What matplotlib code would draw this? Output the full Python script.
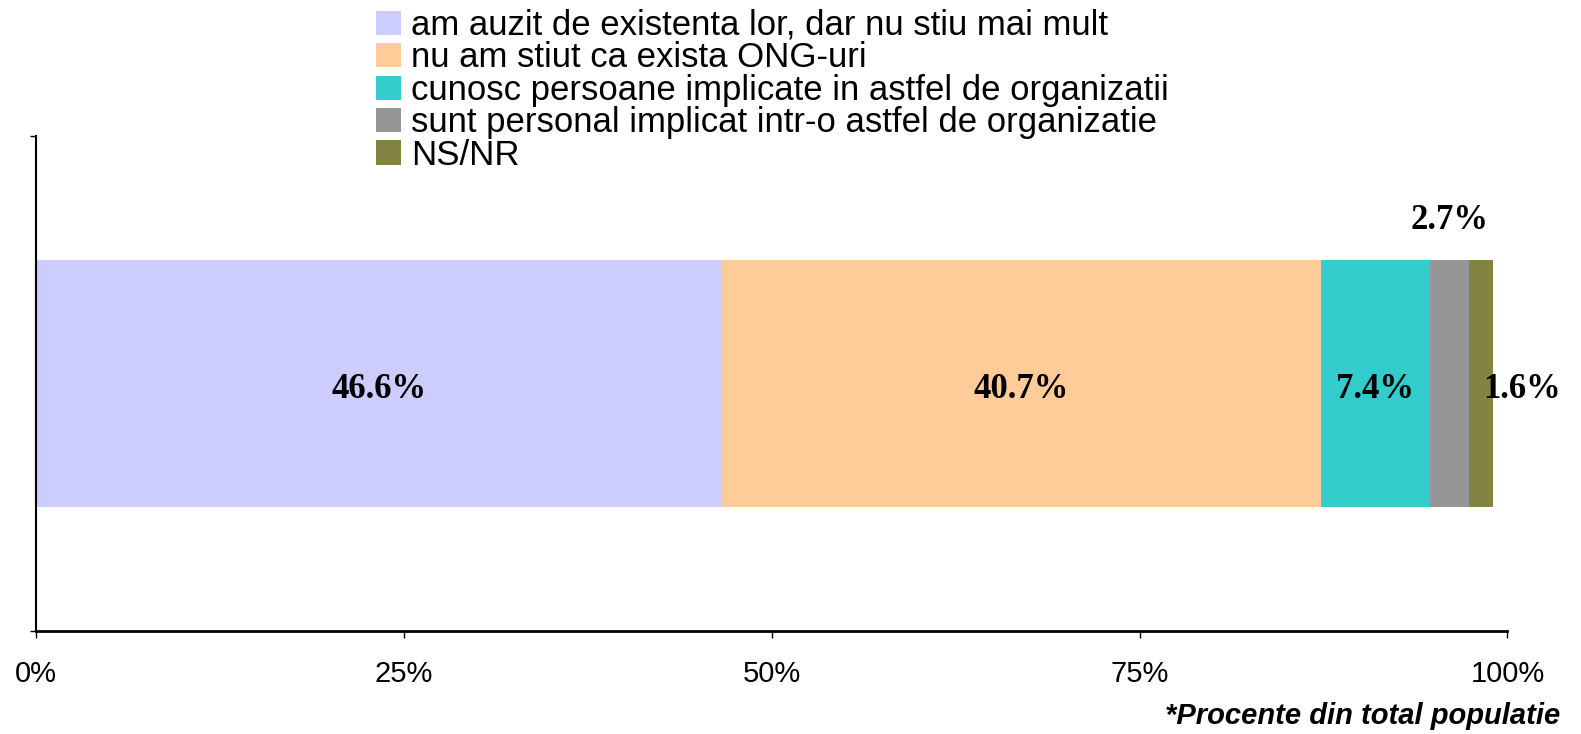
import matplotlib
matplotlib.use('Agg')
import matplotlib.pyplot as plt
from matplotlib.patches import Patch

categories = ['am auzit de existenta lor, dar nu stiu mai mult',
              'nu am stiut ca exista ONG-uri',
              'cunosc persoane implicate in astfel de organizatii',
              'sunt personal implicat intr-o astfel de organizatie',
              'NS/NR']
values = [46.6, 40.7, 7.4, 2.7, 1.6]
colors = ['#CCCCFF', '#FFCC99', '#33CCCC', '#969696', '#848442']
xticks = [0, 25, 50, 75, 100]
xticklabels = ['0%', '25%', '50%', '75%', '100%']

plt.rcParams['font.family'] = ['Liberation Sans', 'DejaVu Sans']

fig = plt.figure(figsize=(15.81, 7.34), dpi=100)
ax = fig.add_axes([0.023, 0.1403, 0.9305, 0.6744])

left = 0
for i in range(len(values)):
    ax.barh(0, values[i], left=left, height=0.5, color=colors[i], label=categories[i])
    c = left + values[i] / 2
    lab = '%.1f%%' % values[i]
    tk = dict(ha='center', va='center_baseline', fontsize=25, fontweight='bold',
              family='Liberation Serif', clip_on=False)
    if i == 3:
        ax.text(c, 0.338, lab, **tk)
    elif i == 4:
        ax.text(c + 2.8, -0.005, lab, **tk)
    else:
        ax.text(c, -0.003, lab, **tk)
    left += values[i]

ax.set_xlim(0, 100)
ax.set_ylim(-0.5, 0.5)
ax.set_xticks(xticks)
ax.set_xticklabels(xticklabels)
ax.set_yticks([-0.5, 0.5])
ax.set_yticklabels([])
ax.tick_params(axis='x', direction='out', length=5, width=1, pad=16, labelsize=21)
ax.tick_params(axis='y', direction='out', length=4, width=1)
for s in ['top', 'right']:
    ax.spines[s].set_visible(False)
ax.spines['left'].set_linewidth(1.5)
ax.spines['bottom'].set_linewidth(2)

handles = [Patch(facecolor=colors[i], edgecolor='none') for i in range(len(categories))]
fig.legend(handles, categories, loc='upper left', bbox_to_anchor=(0.2348, 0.995),
           frameon=False, handlelength=0.7, handleheight=0.7,
           handletextpad=0.3, labelspacing=-0.015, borderaxespad=0.0,
           borderpad=0.15, prop={'family': 'Liberation Sans', 'size': 25})

fig.text(0.987, 0.024, '*Procente din total populatie', ha='right', va='center',
         fontsize=21, fontweight='bold', style='italic')

fig.savefig('out.png', dpi=100)
